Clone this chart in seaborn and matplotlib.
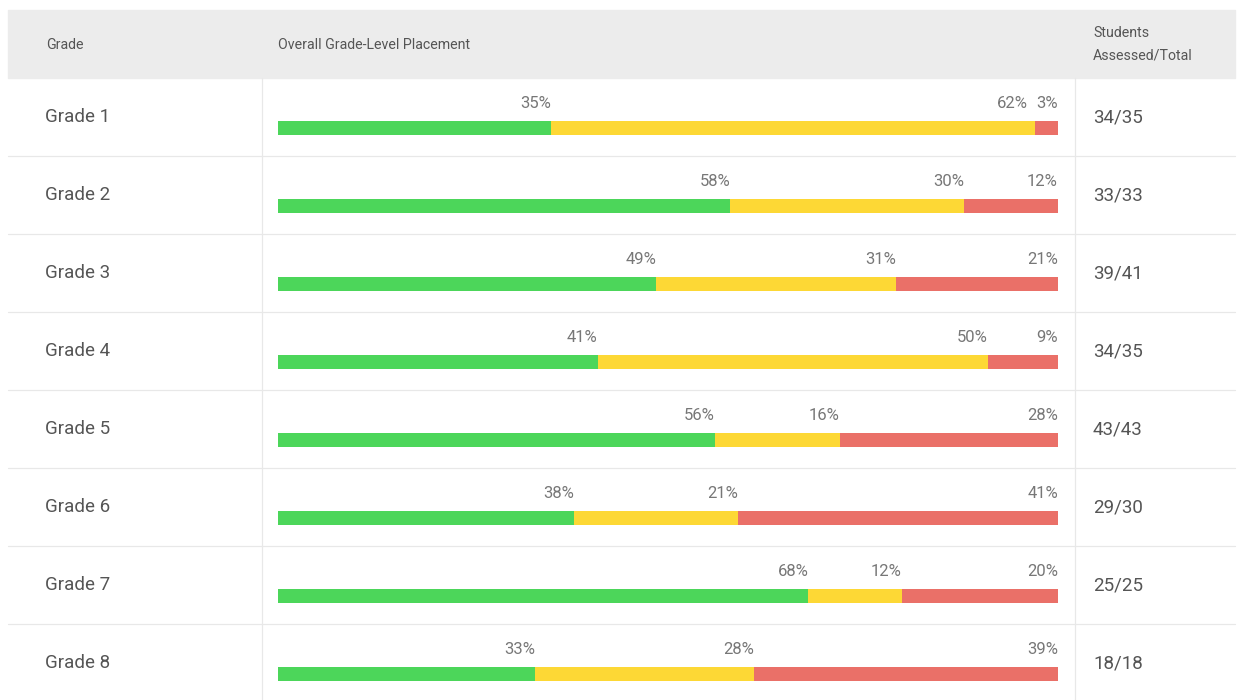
import numpy as np
import pandas as pd
import seaborn as sns
import matplotlib.pyplot as plt
from matplotlib.transforms import blended_transform_factory

grades = ["Grade 1", "Grade 2", "Grade 3", "Grade 4", "Grade 5", "Grade 6", "Grade 7", "Grade 8"]
green = [35, 58, 49, 41, 56, 38, 68, 33]
yellow = [62, 30, 31, 50, 16, 21, 12, 28]
red = [3, 12, 21, 9, 28, 41, 20, 39]
students = ["34/35", "33/33", "39/41", "34/35", "43/43", "29/30", "25/25", "18/18"]

colors = {"green": "#4cd65a", "yellow": "#fdd835", "red": "#ea7068"}

df = pd.DataFrame({"grade": grades, "green": green, "yellow": yellow, "red": red})
total = df[["green", "yellow", "red"]].sum(axis=1)
# bar widths are shares of the row total, labels show the raw numbers
df["end_green"] = df["green"] / total * 100
df["end_yellow"] = (df["green"] + df["yellow"]) / total * 100
df["end_red"] = 100.0

sns.set_theme(style="white")
plt.rcParams["font.family"] = ["Roboto", "DejaVu Sans"]

W, H = 1238, 700
fig = plt.figure(figsize=(W / 100, H / 100), dpi=100)

# background axes in pixel coordinates for the table frame
bg = fig.add_axes([0, 0, 1, 1])
bg.set_xlim(0, W)
bg.set_ylim(H, 0)
bg.axis("off")
bg.add_patch(plt.Rectangle((8, 10), 1227, 68, color="#ececec", zorder=0))
row_h = 78
for i in range(1, len(grades) + 1):
    bg.plot([8, 1235], [78 + row_h * i, 78 + row_h * i], color="#e8e8e8", lw=0.9)
for x in (262, 1075):
    bg.plot([x, x], [78, H], color="#e8e8e8", lw=0.9)

hdr = dict(color="#555555", fontsize=10.2, va="center")
bg.text(46, 45, "Grade", **hdr)
bg.text(278, 45, "Overall Grade-Level Placement", **hdr)
bg.text(1093, 33, "Students", **hdr)
bg.text(1093, 55, "Assessed/Total", **hdr)

# bar axes: each category gets one 78 px row, bar sits a bit below row centre
ax = fig.add_axes([278 / W, (H - 713) / H, 780 / W, 624 / H])
bar_h = 14 / row_h
for col in ["end_red", "end_yellow", "end_green"]:
    sns.barplot(data=df, x=col, y="grade", color=colors[col[4:]], width=bar_h,
                saturation=1, orient="h", ax=ax, linewidth=0)
ax.set_xlim(0, 100)
ax.set_ylim(len(grades) - 0.5, -0.5)
ax.axis("off")

# percent labels, placed right to left so crowded ones get nudged
fig.canvas.draw()
renderer = fig.canvas.get_renderer()
gap = 9
for i, row in df.iterrows():
    limit = None
    for seg in ["red", "yellow", "green"]:
        x_end = row["end_" + seg]
        t = ax.annotate(f"{row[seg]}%", xy=(x_end, i - bar_h / 2), xytext=(0, 7),
                        textcoords="offset points", ha="right", va="bottom",
                        fontsize=12, color="#777777")
        bb = t.get_window_extent(renderer)
        if limit is not None and bb.x1 > limit - gap:
            shift = bb.x1 - (limit - gap)
            t.xyann = (-shift * 72 / fig.dpi, 7)
            bb = t.get_window_extent(renderer)
        limit = bb.x0

# grade names and student counts at the row centres
tr = blended_transform_factory(fig.transFigure, ax.transData)
for i, (g, s) in enumerate(zip(grades, students)):
    ax.text(45 / W, i - 0.14, g, transform=tr, fontsize=13.5, color="#555555",
            va="center", ha="left")
    ax.text(1093 / W, i - 0.14, s, transform=tr, fontsize=13.5, color="#555555",
            va="center", ha="left")

fig.savefig("out.png", dpi=100, facecolor="white")
